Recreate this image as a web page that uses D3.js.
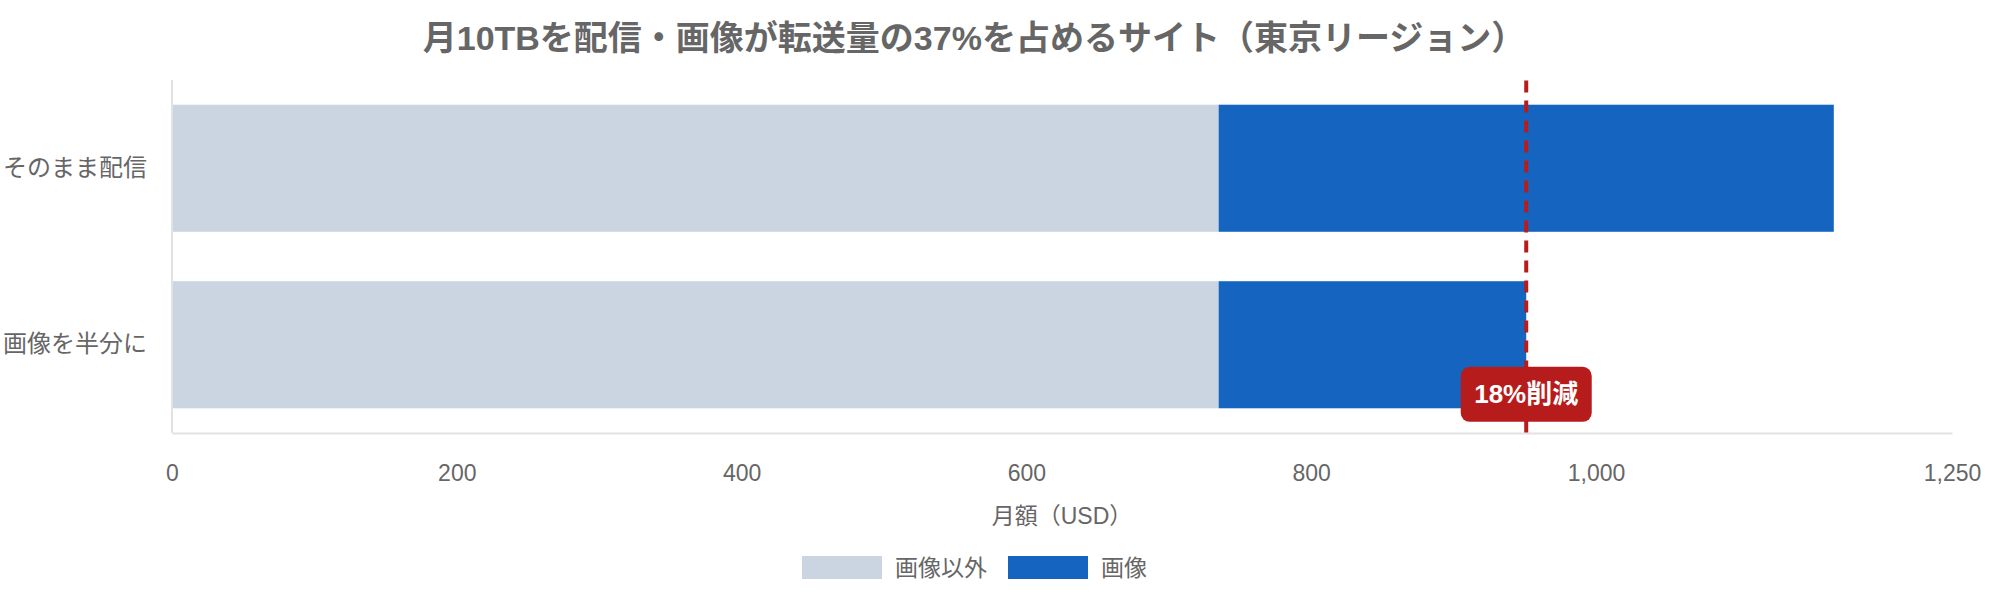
<!DOCTYPE html>
<html><head><meta charset="utf-8">
<script src="https://cdn.jsdelivr.net/npm/d3@7"></script>
<style>
body{margin:0;background:#fff;}
text{font-family:"Liberation Sans","Noto Sans CJK JP",sans-serif;}
</style></head>
<body><svg id="c" width="2000" height="600"></svg>
<script>
const title = "月10TBを配信・画像が転送量の37%を占めるサイト（東京リージョン）";
const categories = ["そのまま配信", "画像を半分に"];
const seriesNames = ["画像以外", "画像"];
const nonImage = [735, 735];
const image = [432, 216];
const tickValues = [0, 200, 400, 600, 800, 1000, 1250];
const xTitle = "月額（USD）";
const markerValue = 951;
const markerLabel = "18%削減";
const colors = ["#cbd5e1", "#1565c0"];

const svg = d3.select("#c");
const x = d3.scaleLinear().domain([0, 1250]).range([172, 1952]);
const y = d3.scaleBand().domain(categories).range([80, 433]).paddingInner(0.28).paddingOuter(0.14);

svg.append("text").attr("x", 974).attr("y", 38).attr("dy", "0.35em")
  .attr("text-anchor", "middle").attr("font-size", 34).attr("font-weight", "bold")
  .attr("fill", "#666").text(title);

// bars
const rows = categories.map((c, i) => ({cat: c, vals: [nonImage[i], image[i]]}));
rows.forEach(r => {
  let acc = 0;
  r.vals.forEach((v, j) => {
    svg.append("rect").attr("x", x(acc)).attr("y", y(r.cat))
      .attr("width", x(acc + v) - x(acc)).attr("height", y.bandwidth())
      .attr("fill", colors[j]);
    acc += v;
  });
});

// axes
const xa = svg.append("g").attr("transform", "translate(0,433)")
  .call(d3.axisBottom(x).tickValues(tickValues).tickFormat(d3.format(",")).tickSize(0).tickSizeOuter(0).tickPadding(32));
xa.select(".domain").attr("stroke", "#e2e2e2").attr("stroke-width", 2);
xa.selectAll("text").attr("font-size", 23).attr("fill", "#666");

const ya = svg.append("g").attr("transform", "translate(172,0)")
  .call(d3.axisLeft(y).tickSize(0).tickSizeOuter(0).tickPadding(25));
ya.select(".domain").attr("stroke", "#e2e2e2").attr("stroke-width", 2).attr("d", "M0,80V433");
ya.selectAll("text").attr("font-size", 24).attr("fill", "#666");

svg.append("text").attr("x", 1062).attr("y", 516).attr("dy", "0.35em")
  .attr("text-anchor", "middle").attr("font-size", 23).attr("fill", "#666").text(xTitle);

// marker line
svg.append("line").attr("x1", x(markerValue)).attr("x2", x(markerValue))
  .attr("y1", 80.5).attr("y2", 433).attr("stroke", "#b71c1c")
  .attr("stroke-width", 4).attr("stroke-dasharray", "12,8");

const by = y(categories[1]) + y.bandwidth() - 14;
svg.append("rect").attr("x", x(markerValue) - 65.5).attr("y", by - 27.5)
  .attr("width", 131).attr("height", 55).attr("rx", 9).attr("fill", "#b71c1c");
svg.append("text").attr("x", x(markerValue)).attr("y", by).attr("dy", "0.35em")
  .attr("text-anchor", "middle").attr("font-size", 26).attr("font-weight", "bold")
  .attr("fill", "#fff").text(markerLabel);

// legend
let lx = 802;
seriesNames.forEach((n, i) => {
  svg.append("rect").attr("x", lx).attr("y", 556).attr("width", 80).attr("height", 23).attr("fill", colors[i]);
  const t = svg.append("text").attr("x", lx + 93).attr("y", 567.5).attr("dy", "0.35em")
    .attr("font-size", 23).attr("fill", "#666").text(n);
  lx += 93 + t.node().getComputedTextLength() + 21;
});
</script></body></html>
